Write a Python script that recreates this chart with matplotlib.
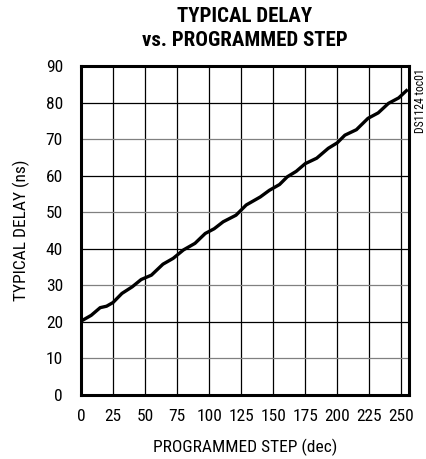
import matplotlib
matplotlib.use("Agg")
import matplotlib.pyplot as plt

# programmed step (dec) vs typical delay (ns)
step = [0, 8, 15, 20, 25, 32, 40, 47, 55, 64, 72, 80, 89, 97, 104, 111, 121,
        129, 140, 147, 155, 161, 168, 175, 184, 193, 200, 206, 215, 224, 232,
        240, 248, 255]
delay = [20.2, 21.8, 23.9, 24.3, 25.3, 27.8, 29.6, 31.6, 32.8, 35.8, 37.4,
         39.7, 41.5, 44.2, 45.5, 47.4, 49.2, 52.0, 54.2, 56.0, 57.6, 59.7,
         61.2, 63.3, 64.8, 67.5, 69.0, 71.1, 72.6, 75.7, 77.2, 79.8, 81.3,
         83.6]

xticks = [0, 25, 50, 75, 100, 125, 150, 175, 200, 225, 250]
yticks = [0, 10, 20, 30, 40, 50, 60, 70, 80, 90]

plt.rcParams['font.family'] = ['Roboto Condensed', 'Archivo Narrow', 'DejaVu Sans']

fig = plt.figure(figsize=(4.26, 4.59), dpi=100)
ax = fig.add_axes([0.190, 0.1394, 0.770, 0.7166])

ax.set_xlim(0, 256)
ax.set_ylim(0, 90)
ax.set_xticks(xticks)
ax.set_yticks(yticks)
ax.tick_params(length=0, labelsize=12.5)
ax.tick_params(axis='x', pad=10)
ax.tick_params(axis='y', pad=13)

for x in xticks[1:]:
    ax.axvline(x, color='black', lw=0.9, zorder=1)
for y in yticks[1:-1]:
    c = '#808080' if (y // 10) % 2 == 1 else 'black'
    ax.axhline(y, color=c, lw=0.9, zorder=1)

ax.plot(step, delay, color='black', lw=2.4, zorder=3, solid_capstyle='butt')

for s in ax.spines.values():
    s.set_linewidth(2.2)
    s.set_zorder(4)

ax.set_xlabel('PROGRAMMED STEP (dec)', fontsize=12.5, labelpad=11)
ax.set_ylabel('TYPICAL DELAY (ns)', fontsize=12.5, labelpad=11)

fig.text(0.575, 0.965, 'TYPICAL DELAY', ha='center', va='center',
         fontsize=15, fontweight='heavy')
fig.text(0.575, 0.911, 'vs. PROGRAMMED STEP', ha='center', va='center',
         fontsize=15, fontweight='heavy')
fig.text(0.986, 0.852, 'DS1124 toc01', rotation=90, ha='center', va='top',
         fontsize=8.5)

fig.savefig('out.png', dpi=100)
